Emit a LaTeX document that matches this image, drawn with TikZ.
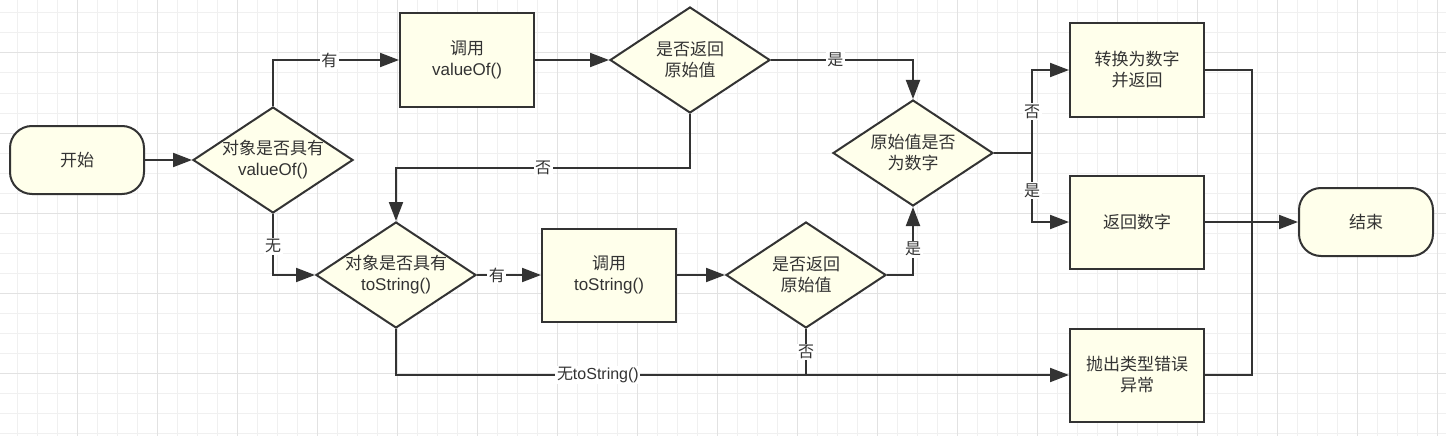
\documentclass[tikz,border=0pt]{standalone}
\usepackage{fontspec}
\setmainfont{Liberation Sans}
\newfontfamily\cjk{Noto Sans CJK SC}
\usetikzlibrary{arrows.meta,shapes.geometric,calc}
\definecolor{ln}{HTML}{333333}
\definecolor{fl}{HTML}{FFFFEB}
\definecolor{gminor}{HTML}{F0F0F0}
\definecolor{gmajor}{HTML}{E2E2E2}
\newcommand\zht[1]{{\cjk #1}}
\begin{document}
\begin{tikzpicture}[x=1pt,y=-1pt,
  base/.style={draw=ln, fill=fl, line width=2pt, text=ln, font=\fontsize{17}{21}\selectfont, align=center, inner sep=0pt},
  term/.style={base, rectangle, rounded corners=22pt, minimum width=134pt, minimum height=68pt},
  proc/.style={base, rectangle, minimum width=134pt, minimum height=93pt},
  dec/.style={base, diamond, aspect=1.51, inner xsep=-3pt, minimum width=160pt, minimum height=106pt},
  arr/.style={draw=ln, line width=2pt, -{Triangle[length=19pt,width=14pt]}},
  ln2/.style={draw=ln, line width=2pt},
  lbl/.style={fill=white, text=ln, inner sep=1.5pt, font=\fontsize{16}{19}\selectfont},
  gmin/.style={draw=gminor, line width=1pt},
  gmaj/.style={draw=gmajor, line width=1pt},
]
\useasboundingbox (0,0) rectangle (1446,436);
\fill[white] (0,0) rectangle (1446,436);
\foreach \x in {17,37,...,1446} \draw[gmin] (\x,0) -- (\x,436);
\foreach \y in {13,33,...,436} \draw[gmin] (0,\y) -- (1446,\y);
\foreach \x in {77,157,...,1446} \draw[gmaj] (\x,0) -- (\x,436);
\foreach \y in {53,133,...,436} \draw[gmaj] (0,\y) -- (1446,\y);

\node[term] (start) at (77,160) {\zht{开始}};
\node[dec] (d1) at (273,160) {\zht{对象是否具有}\\valueOf()};
\node[proc] (b1) at (467,60) {\zht{调用}\\valueOf()};
\node[dec] (d2) at (690,60) {\zht{是否返回}\\\zht{原始值}};
\node[dec] (d3) at (913,153) {\zht{原始值是否}\\\zht{为数字}};
\node[dec] (d4) at (396,275) {\zht{对象是否具有}\\toString()};
\node[proc] (b2) at (609,275) {\zht{调用}\\toString()};
\node[dec] (d5) at (806,275) {\zht{是否返回}\\\zht{原始值}};
\node[proc] (r1) at (1137,70) {\zht{转换为数字}\\\zht{并返回}};
\node[proc] (r2) at (1137,222) {\zht{返回数字}};
\node[proc] (r3) at (1137,375) {\zht{抛出类型错误}\\\zht{异常}};
\node[term] (end) at (1366,222) {\zht{结束}};

\coordinate (m1) at ($(d2.south)!0.5!(d4.north)$);
\coordinate (j2) at ($(d3.east)+(38,0)$);
\coordinate (j3) at ($(r2.east)!0.5!(end.west)$);

\draw[arr] (start.east) -- (d1.west);
\draw[arr] (d1.north) |- node[lbl,pos=0.724]{\zht{有}} (b1.west);
\draw[arr] (b1.east) -- (d2.west);
\draw[arr] (d2.east) -| node[lbl,pos=0.227]{\zht{是}} (d3.north);
\draw[arr] (d2.south) |- (m1) -| (d4.north);
\node[lbl] at (m1) {\zht{否}};
\draw[arr] (d1.south) |- node[lbl,pos=0.266]{\zht{无}} (d4.west);
\draw[arr] (d4.east) -- node[lbl,pos=0.31]{\zht{有}} (b2.west);
\draw[arr] (b2.east) -- (d5.west);
\draw[arr] (d5.east) -| node[lbl,pos=0.69]{\zht{是}} (d3.south);
\draw[arr] (d4.south) |- node[lbl,pos=0.65]{\zht{无}toString()} (r3.west);
\draw[ln2] (d5.south) -- node[lbl,midway]{\zht{否}} (d5.south |- r3.west);
\draw[ln2] (d3.east) -- (j2);
\draw[arr] (j2) |- node[lbl,pos=0.25]{\zht{否}} (r1.west);
\draw[arr] (j2) |- node[lbl,pos=0.27]{\zht{是}} (r2.west);
\draw[ln2] (r1.east) -| (j3);
\draw[ln2] (r3.east) -| (j3);
\draw[arr] (r2.east) -- (end.west);
\end{tikzpicture}
\end{document}
